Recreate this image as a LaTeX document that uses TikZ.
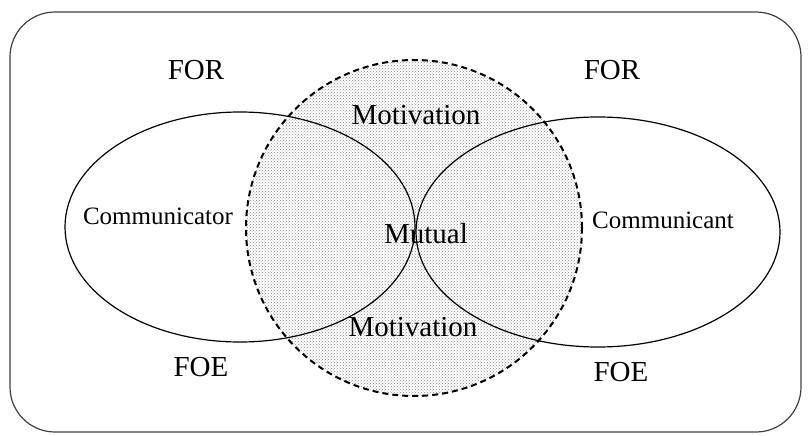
\documentclass[tikz,border=0pt]{standalone}
\usepackage{fontspec}
\setmainfont{Liberation Serif}
\usetikzlibrary{patterns}

\begin{document}
\begin{tikzpicture}[x=1pt,y=-1pt,
    lbl/.style={font=\fontsize{29}{32}\selectfont, inner sep=0pt},
    party/.style={font=\fontsize{25}{28}\selectfont, inner sep=0pt},
    field/.style={line width=1.2pt}]
    \useasboundingbox (0,0) rectangle (808,436);

    % outer frame
    \draw[black!75, line width=1.2pt, rounded corners=45pt] (10,12) rectangle (801,432);

    % shared motivation circle (shading)
    \fill[pattern=crosshatch dots, pattern color=black!45] (414,228) circle[radius=168pt];

    % the two fields
    \draw[field] (240,227) ellipse[x radius=175pt, y radius=115pt];
    \draw[field] (598,232) ellipse[x radius=182pt, y radius=115pt];

    % circle border
    \draw[line width=2pt, dash pattern=on 6pt off 4pt] (414,228) circle[radius=168pt];

    % labels
    \node[lbl] (forL) at (196,70) {FOR};
    \node[lbl] (forR) at (612,70) {FOR};
    \node[lbl] (foeL) at (201,367) {FOE};
    \node[lbl] (foeR) at (621,372) {FOE};
    \node[party] (sender) at (158,216) {Communicator};
    \node[party] (receiver) at (663,220) {Communicant};
    \node[lbl] (motTop) at (416,115) {Motivation};
    \node[lbl] (mutual) at (426,234) {Mutual};
    \node[lbl] (motBot) at (413,327) {Motivation};
\end{tikzpicture}
\end{document}
